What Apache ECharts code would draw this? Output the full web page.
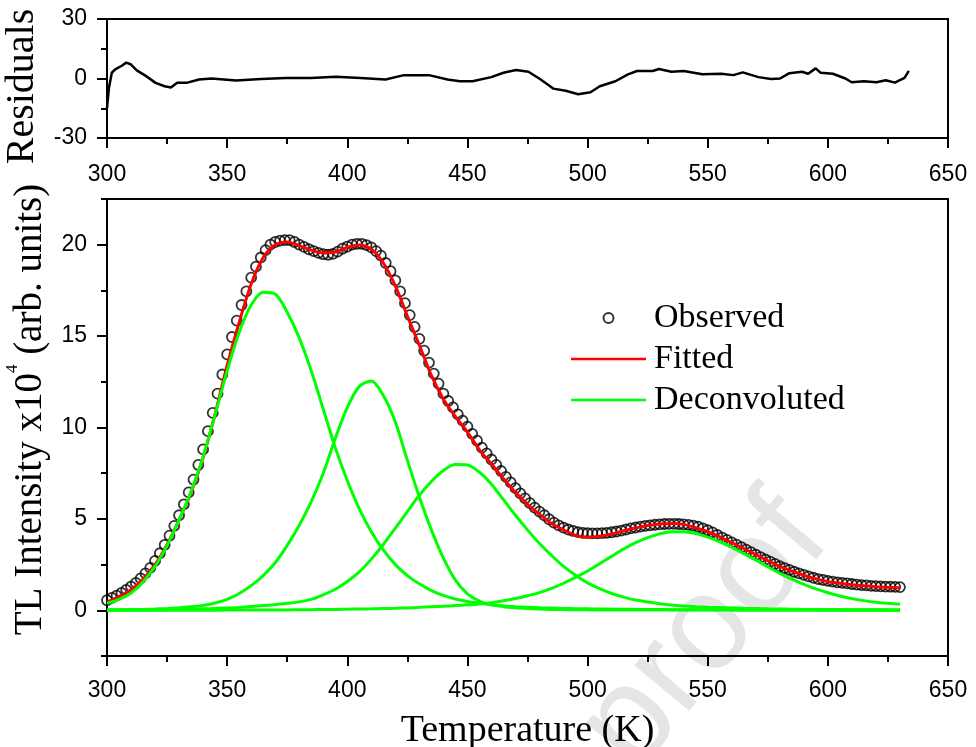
<!DOCTYPE html>
<html>
<head>
<meta charset="utf-8">
<script src="https://cdn.jsdelivr.net/npm/echarts@6/dist/echarts.min.js"></script>
<style>
html,body{margin:0;padding:0;background:#fff;}
#chart{width:976px;height:747px;}
</style>
</head>
<body>
<div id="chart"></div>
<script>
// 温度轴
var tickValues = [300, 350, 400, 450, 500, 550, 600, 650];
var intensityTicks = [0, 5, 10, 15, 20];
// 实测点 (300K 起, 每 2K 一个)
var obsStart = 300, obsStep = 2;
var observed = [0.55,0.68,0.8,0.95,1.12,1.3,1.5,1.75,2.02,2.32,
  2.7,3.12,3.58,4.08,4.62,5.2,5.8,6.45,7.15,7.95,
  8.8,9.8,10.8,11.85,12.9,14.0,14.95,15.85,16.7,17.45,
  18.2,18.8,19.3,19.7,20.0,20.15,20.22,20.25,20.25,20.15,
  20.0,19.88,19.75,19.65,19.55,19.48,19.45,19.5,19.62,19.78,
  19.9,20.0,20.05,20.05,19.98,19.85,19.65,19.4,19.0,18.55,
  18.05,17.45,16.8,16.15,15.5,14.85,14.2,13.55,12.95,12.4,
  11.85,11.45,11.1,10.72,10.38,10.05,9.65,9.28,8.9,8.58,
  8.25,7.95,7.62,7.3,7.0,6.68,6.4,6.12,5.86,5.62,
  5.4,5.2,4.98,4.8,4.65,4.52,4.42,4.34,4.28,4.24,
  4.22,4.21,4.21,4.22,4.24,4.27,4.31,4.36,4.42,4.48,
  4.53,4.58,4.62,4.65,4.68,4.7,4.72,4.73,4.73,4.72,
  4.7,4.67,4.63,4.57,4.48,4.38,4.26,4.12,3.98,3.85,
  3.72,3.59,3.46,3.32,3.18,3.04,2.91,2.78,2.66,2.54,
  2.41,2.31,2.21,2.11,2.02,1.94,1.86,1.78,1.71,1.66,
  1.61,1.57,1.53,1.5,1.47,1.44,1.41,1.38,1.36,1.34,
  1.32,1.31,1.3,1.29,1.28,1.27];
// 拟合曲线和分峰 (300K 起, 每 5K 一个)
var fitStart = 300, fitStep = 5;
var fitted = [0.45,0.75,1.12,1.7,2.5,3.6,4.95,6.45,8.35,10.75,
  13.4,15.75,17.85,19.3,20.0,20.15,19.95,19.7,19.55,19.6,
  19.85,19.98,19.75,19.0,17.75,16.1,14.5,12.85,11.55,10.6,
  9.75,8.78,8.0,7.2,6.45,5.8,5.25,4.75,4.4,4.1,
  4.0,4.05,4.17,4.35,4.5,4.64,4.72,4.75,4.7,4.52,
  4.3,4.02,3.7,3.38,3.05,2.72,2.4,2.15,1.92,1.72,
  1.58,1.48,1.4,1.34,1.29,1.26,1.24];
var peak1 = [0.38,0.6,0.95,1.55,2.4,3.55,4.95,6.5,8.4,10.7,
  13.1,15.2,16.7,17.4,17.3,16.3,14.9,13.1,11.0,8.9,
  7.1,5.55,4.3,3.3,2.5,1.9,1.45,1.08,0.82,0.62,
  0.48,0.38,0.3,0.24,0.2,0.17,0.14,0.12,0.1,0.09,
  0.08,0.07,0.06,0.055,0.05,0.045,0.04,0.035,0.03,0.03,
  0.03,0.025,0.025,0.02,0.02,0.02,0.02,0.02,0.015,0.015,
  0.015,0.015,0.01,0.01,0.01,0.01,0.01];
var peak2 = [0.02,0.03,0.04,0.05,0.07,0.1,0.14,0.19,0.27,0.4,
  0.6,0.92,1.35,1.9,2.6,3.55,4.65,5.95,7.5,9.4,
  11.1,12.25,12.55,11.75,10.3,8.2,6.2,4.4,2.85,1.65,
  0.9,0.5,0.3,0.2,0.14,0.1,0.07,0.05,0.04,0.03,
  0.025,0.02,0.02,0.015,0.015,0.01,0.01,0.01,0.01,0.01,
  0.01,0.01,0.01,0.01,0.01,0.01,0.01,0.01,0.01,0.01,
  0.005,0.005,0.005,0.005,0.005,0.005,0.005];
var peak3 = [0.01,0.01,0.02,0.02,0.03,0.04,0.05,0.06,0.08,0.1,
  0.12,0.16,0.21,0.26,0.31,0.38,0.46,0.6,0.85,1.15,
  1.58,2.1,2.8,3.6,4.5,5.4,6.3,7.05,7.65,7.97,
  7.95,7.55,6.9,6.05,5.2,4.4,3.65,3.0,2.4,1.92,
  1.5,1.18,0.92,0.72,0.56,0.45,0.36,0.29,0.24,0.2,
  0.17,0.15,0.13,0.11,0.1,0.08,0.07,0.06,0.05,0.05,
  0.04,0.04,0.03,0.03,0.03,0.02,0.02];
var peak4 = [0,0,0,0,0,0,0,0,0,0.005,
  0.01,0.01,0.01,0.015,0.02,0.02,0.03,0.035,0.04,0.05,
  0.06,0.07,0.08,0.095,0.11,0.13,0.16,0.19,0.22,0.26,
  0.3,0.35,0.42,0.52,0.65,0.8,0.97,1.2,1.48,1.8,
  2.15,2.55,2.95,3.35,3.7,3.98,4.18,4.3,4.3,4.2,
  4.0,3.75,3.45,3.1,2.75,2.38,2.02,1.7,1.42,1.17,
  0.96,0.78,0.64,0.53,0.44,0.38,0.33];
// 残差
var resT = [300,300.8,302,303.4,306,308,309.8,312.4,316.3,320.2,324,326.6,329.2,333.1,338.3,343.5,
  353.8,364.1,374.5,384.8,395.2,405.5,415.9,423.6,434,441.7,446.9,452.1,459.9,465,470.2,475.4,
  480.5,485.7,490.9,496.1,501.2,505.1,511.6,516.8,520.6,527.1,529.7,534.9,540,547.8,555.6,560.7,
  564.6,571.1,576.3,580.1,584,589.2,591.8,594.9,597,602.1,607.3,609.9,615,620.2,624.1,627.9,631.9,633.7];
var resV = [-15,-4.8,2.9,4.6,6.3,8,7.2,4.1,1.2,-2.2,-3.9,-4.5,-2.2,-2.2,-0.5,0,
  -1,-0.2,0.3,0.3,0.9,0.3,-0.5,1.7,1.7,-0.5,-1.4,-1.4,0.7,2.9,4.3,3.4,
  -0.5,-5.1,-6.2,-7.9,-6.9,-3.9,-1.4,2.1,3.8,3.8,4.8,3.4,3.8,2.1,2.4,1.7,
  3.1,0.7,-0.3,0,2.7,3.4,2.4,5.1,2.9,2.4,0,-1.9,-1.4,-1.9,-0.9,-2.1,0.3,3.8];

function toPairs(start, step, vals){
  var out = [];
  for(var i=0;i<vals.length;i++){
    out.push([start + i*step, vals[i]]);
  }
  return out;
}
function zip(xs, ys){
  var out = [];
  for(var i=0;i<xs.length;i++){
    out.push([xs[i], ys[i]]);
  }
  return out;
}

var numFont = 'Liberation Sans';
var serif = 'Liberation Serif';
var black = '#000';
// 图例里的横线
var lineIcon = 'path://M0 0H30V1H0Z';

function xAxisOf(gridIdx, withName){
  var ax = {
    type: 'value', gridIndex: gridIdx, min: 300, max: 650, interval: 50,
    axisLine: {onZero: false, lineStyle: {color: black, width: 2}},
    axisTick: {length: 10, lineStyle: {color: black, width: 2}},
    minorTick: {show: true, splitNumber: 2, length: 6, lineStyle: {color: black, width: 2}},
    splitLine: {show: false},
    axisLabel: {fontFamily: numFont, fontSize: 23, color: black, margin: withName ? 23 : 25,
      customValues: tickValues}
  };
  if(withName){
    ax.name = 'Temperature (K)';
    ax.nameLocation = 'middle';
    ax.nameGap = 56;
    ax.nameTextStyle = {fontFamily: serif, fontSize: 38, color: black};
  }
  return ax;
}

var myChart = echarts.init(document.getElementById('chart'));

var deconvStyle = {color: '#00ff00', width: 3};
function deconv(vals){
  return {
    name: 'Deconvoluted', type: 'line', xAxisIndex: 1, yAxisIndex: 1,
    data: toPairs(fitStart, fitStep, vals), smooth: 0.3,
    symbol: 'none', showSymbol: false, lineStyle: deconvStyle, itemStyle: {color: '#00ff00'},
    z: 4, silent: true
  };
}

var option = {
  animation: false,
  backgroundColor: '#fff',
  grid: [
    {left: 107, top: 19, width: 841, height: 119, show: true, borderColor: black, borderWidth: 2,
      outerBoundsMode: 'none', containLabel: false},
    {left: 107, top: 199, width: 841, height: 457, show: true, borderColor: black, borderWidth: 2,
      outerBoundsMode: 'none', containLabel: false}
  ],
  legend: {
    orient: 'vertical', left: 566, top: 296,
    itemWidth: 75, itemHeight: 10, itemGap: 7,
    textStyle: {fontFamily: serif, fontSize: 34, color: black, padding: [0, 0, 0, 3]},
    data: [
      {name: 'Observed'},
      {name: 'Fitted', icon: lineIcon},
      {name: 'Deconvoluted', icon: lineIcon}
    ]
  },
  xAxis: [xAxisOf(0, false), xAxisOf(1, true)],
  yAxis: [
    {
      type: 'value', gridIndex: 0, min: -30, max: 30, interval: 30,
      axisLine: {show: true, lineStyle: {color: black, width: 2}},
      axisTick: {length: 10, lineStyle: {color: black, width: 2}},
      minorTick: {show: true, splitNumber: 2, length: 6, lineStyle: {color: black, width: 2}},
      splitLine: {show: false},
      axisLabel: {fontFamily: numFont, fontSize: 23, color: black, margin: 20},
      name: 'Residuals', nameLocation: 'middle', nameRotate: 90, nameGap: 45,
      nameTextStyle: {fontFamily: serif, fontSize: 40, color: black, padding: [0, 16, 0, 0]}
    },
    {
      type: 'value', gridIndex: 1, position: 'left', min: -2.5, max: 22.5, interval: 2.5,
      axisLine: {show: true, lineStyle: {color: black, width: 2}},
      axisTick: {length: 10, customValues: intensityTicks, lineStyle: {color: black, width: 2}},
      splitLine: {show: false},
      axisLabel: {fontFamily: numFont, fontSize: 23, color: black, margin: 20,
        customValues: intensityTicks,
        formatter: function(v){ return (v % 5 === 0) ? String(v) : ''; }},
      name: '{a|TL Intensity x10}{b|4}{a| (arb. units)}',
      nameLocation: 'middle', nameRotate: 90, nameGap: 48,
      nameTextStyle: {
        color: black, padding: [0, 0, 0, 36],
        rich: {
          a: {fontFamily: serif, fontSize: 39, color: black, lineHeight: 54},
          b: {fontFamily: serif, fontSize: 17, color: black, verticalAlign: 'top', lineHeight: 18}
        }
      }
    },
    {
      // 次刻度
      type: 'value', gridIndex: 1, position: 'left', min: -2.5, max: 22.5, interval: 2.5,
      axisLine: {show: false},
      axisTick: {length: 6, lineStyle: {color: black, width: 2}},
      axisLabel: {show: false},
      splitLine: {show: false}
    }
  ],
  graphic: [{
    type: 'text', x: 804, y: 516, rotation: 50 * Math.PI / 180, z: -10, silent: true,
    style: {text: 'Journal Pre-proof', font: '135px "Liberation Sans"', fill: 'rgba(0,0,0,0.1)',
      align: 'right', verticalAlign: 'middle'}
  }],
  series: [
    {
      name: 'Residuals', type: 'line', xAxisIndex: 0, yAxisIndex: 0,
      data: zip(resT, resV), symbol: 'none', showSymbol: false,
      lineStyle: {color: black, width: 2.5}, z: 3, silent: true
    },
    {
      name: 'Observed', type: 'scatter', xAxisIndex: 1, yAxisIndex: 1,
      data: toPairs(obsStart, obsStep, observed), symbol: 'circle', symbolSize: 10,
      itemStyle: {color: 'rgba(255,255,255,0)', borderColor: black, borderWidth: 1.8},
      z: 2, silent: true
    },
    {
      name: 'Fitted', type: 'line', xAxisIndex: 1, yAxisIndex: 1,
      data: toPairs(fitStart, fitStep, fitted), smooth: 0.3,
      symbol: 'none', showSymbol: false, lineStyle: {color: '#ff0000', width: 3},
      itemStyle: {color: '#ff0000'}, z: 3, silent: true
    },
    deconv(peak1), deconv(peak2), deconv(peak3), deconv(peak4)
  ]
};
myChart.setOption(option);
</script>
</body>
</html>
